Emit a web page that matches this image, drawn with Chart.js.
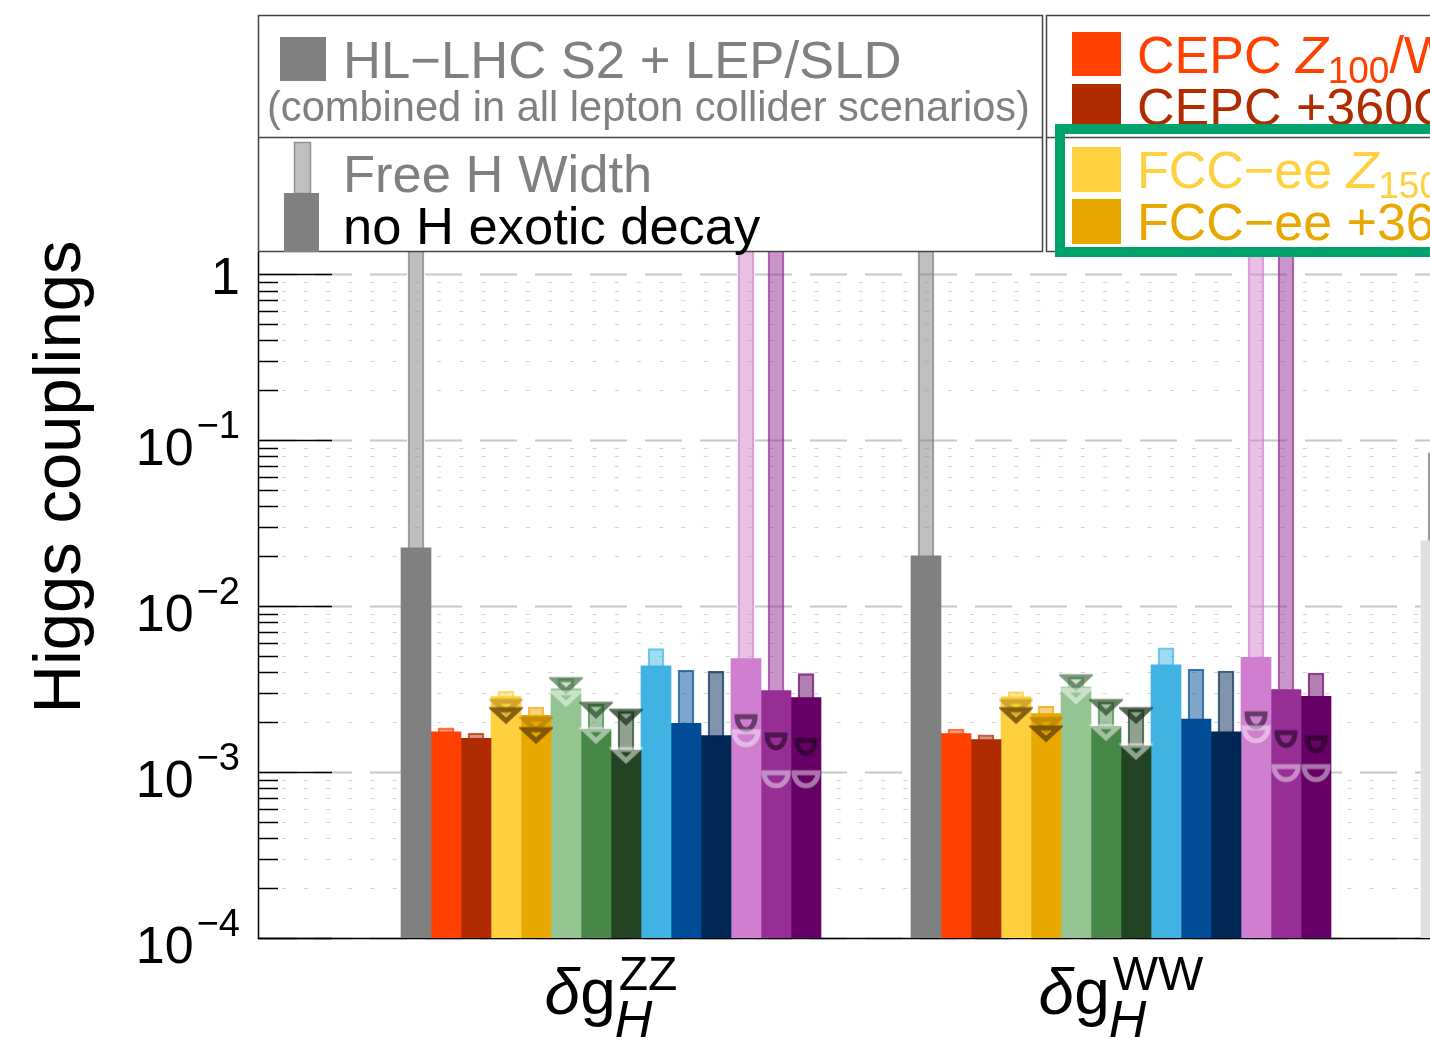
<!DOCTYPE html>
<html lang="en">
<head>
<meta charset="UTF-8" />
<title>Higgs couplings</title>
<script src="https://cdn.jsdelivr.net/npm/chart.js"></script>
<style>
  html, body { margin: 0; padding: 0; background: #fff; }
  #wrap { width: 1430px; height: 1044px; }
</style>
</head>
<body>
<div id="wrap"><canvas id="chart" width="1430" height="1044"></canvas></div>
<script>
  // categories (third one is only partly in view)
  const groups = ['ZZ', 'WW', 'γγ'];
  const scenarios = ['HL-LHC S2 + LEP/SLD', 'CEPC Z100/WW6/240', 'CEPC +360', 'FCC-ee Z150/WW10/240', 'FCC-ee +365',
    'ILC 250', 'ILC +500', 'ILC +1000', 'CLIC 380', 'CLIC +1500', 'CLIC +3000', 'LCF 250', 'LCF +550', 'LCF +1000'];

  // no H exotic decay (wide bars)
  const noExoticZZ = [0.0225, 0.00175, 0.0016, 0.00285, 0.0022, 0.00318, 0.00182, 0.00136, 0.00438, 0.00197, 0.00166, 0.00483, 0.0031, 0.00281];
  const noExoticWW = [0.0201, 0.00171, 0.00157, 0.00284, 0.00225, 0.00326, 0.00189, 0.00144, 0.00444, 0.00209, 0.00175, 0.00492, 0.00314, 0.00286];
  const noExoticAA = [0.0248, null, null, null, null, null, null, null, null, null, null, null, null, null];

  // free H width (narrow bars behind)
  const freeWidthZZ = [2, 0.00185, 0.00172, 0.00308, 0.00247, 0.00369, 0.00256, 0.00232, 0.00555, 0.00412, 0.00405, 2, 2, 0.00392];
  const freeWidthWW = [2, 0.00182, 0.00168, 0.00306, 0.0025, 0.00374, 0.00263, 0.00238, 0.00562, 0.00418, 0.00407, 2, 2, 0.00396];
  const freeWidthAA = [0.084, null, null, null, null, null, null, null, null, null, null, null, null, null];

  // extra markers (dark / light)
  const markDarkZZ = [null, null, null, 0.00219, 0.00166, 0.00332, 0.00236, 0.00214, null, null, null, 0.00196, 0.00152, 0.00141];
  const markLightZZ = [null, null, null, 0.00246, 0.00192, 0.00277, 0.00166, 0.00126, null, null, null, 0.00159, 0.0009, 0.0009];
  const markDarkWW = [null, null, null, 0.00219, 0.0017, 0.00346, 0.00245, 0.00219, null, null, null, 0.00204, 0.00157, 0.00146];
  const markLightWW = [null, null, null, 0.00245, 0.00191, 0.00287, 0.00173, 0.00133, null, null, null, 0.00168, 0.00098, 0.00098];

  const yTickValues = [1, 1e-1, 1e-2, 1e-3, 1e-4];
  const yTickExp = ['', '−1', '−2', '−3', '−4'];

  // styles
  const colors = ['#808080', '#ff4000', '#b02c00', '#fecf3f', '#e9a800', '#93c491', '#478747', '#234423',
    '#41b3e3', '#004c97', '#002855', '#d07fd0', '#962e96', '#660066'];
  const markerShape = [null, null, null, 'tri', 'tri', 'tri', 'tri', 'tri', null, null, null, 'cup', 'cup', 'cup'];
  const darkMarkColor = ['', '', '', 'rgba(95,60,0,0.75)', 'rgba(95,60,0,0.75)', 'rgba(40,85,40,0.6)', 'rgba(35,75,35,0.7)', 'rgba(25,50,25,0.75)',
    '', '', '', 'rgba(20,0,20,0.55)', 'rgba(20,0,20,0.55)', 'rgba(20,0,20,0.55)'];
  const lightMarkColor = ['', '', '', 'rgba(130,90,0,0.35)', 'rgba(130,90,0,0.35)', 'rgba(255,255,255,0.5)', 'rgba(255,255,255,0.5)', 'rgba(255,255,255,0.5)',
    '', '', '', 'rgba(255,255,255,0.45)', 'rgba(255,255,255,0.45)', 'rgba(255,255,255,0.45)'];
  const FONT = "'Liberation Sans', Arial, sans-serif";
  const groupStep = 17;   // bar slots from one coupling to the next
  const xMin = -5.2667, xMax = 33.8;

  const noExotic = [noExoticZZ, noExoticWW, noExoticAA];
  const freeWidth = [freeWidthZZ, freeWidthWW, freeWidthAA];
  const markDark = [markDarkZZ, markDarkWW];
  const markLight = [markLightZZ, markLightWW];

  function alpha(hex, a) {
    const n = parseInt(hex.slice(1), 16);
    return `rgba(${n >> 16},${(n >> 8) & 255},${n & 255},${a})`;
  }

  function makeMarker(shape, color, big) {
    const c = document.createElement('canvas');
    c.width = 34; c.height = 24;
    const g = c.getContext('2d');
    g.strokeStyle = color;
    g.lineWidth = 5;
    if (shape === 'tri') {
      g.beginPath(); g.moveTo(5, 6); g.lineTo(29, 6); g.lineTo(17, 17); g.closePath(); g.stroke();
    } else {
      g.beginPath(); g.ellipse(17, 5, big ? 12 : 9, 13, 0, 0, Math.PI); g.closePath(); g.stroke();
    }
    return c;
  }

  const datasets = [];
  scenarios.forEach((name, j) => {
    datasets.push({
      type: 'bar', label: name + ' (free width)', order: 2, grouped: false, clip: 0,
      data: groups.map((g, i) => ({ x: i * groupStep + j, y: freeWidth[i][j] })),
      backgroundColor: alpha(colors[j], 0.5), borderColor: alpha(colors[j], 0.75),
      borderWidth: 1.5, barThickness: 16
    });
    datasets.push({
      type: 'bar', label: name, order: 1, grouped: false, clip: 0,
      data: groups.map((g, i) => ({ x: i * groupStep + j, y: noExotic[i][j] })),
      backgroundColor: groups.map((g, i) => (i === 2 ? '#e0e0e0' : colors[j])),
      barThickness: 30
    });
    if (markerShape[j]) {
      [[markLight, lightMarkColor, true], [markDark, darkMarkColor, false]].forEach(([arr, col, big]) => {
        datasets.push({
          type: 'scatter', label: name + ' marker', order: 0, clip: 0,
          data: arr.map((vals, i) => ({ x: i * groupStep + j, y: vals[j] })),
          pointStyle: makeMarker(markerShape[j], col[j], big), pointRadius: 3
        });
      });
    }
  });

  function drawRuns(ctx, x, y, runs, color) {
    ctx.fillStyle = color;
    ctx.textAlign = 'left';
    ctx.textBaseline = 'alphabetic';
    for (const [t, size, italic, dy] of runs) {
      ctx.font = (italic ? 'italic ' : '') + size + 'px ' + FONT;
      ctx.fillText(t, x, y + (dy || 0));
      x += ctx.measureText(t).width;
    }
    return x;
  }

  const decor = {
    id: 'decor',
    beforeDatasetsDraw(chart) {
      const { ctx, chartArea: a, scales: { y } } = chart;
      ctx.save();
      // minor grid and ticks
      for (let e = -4; e <= 0; e++) {
        for (let m = 2; m <= 9; m++) {
          const v = m * Math.pow(10, e);
          if (v > y.max) continue;
          const py = Math.round(y.getPixelForValue(v)) + 0.5;
          ctx.setLineDash([4, 18.2]);
          ctx.strokeStyle = '#d2d2d2'; ctx.lineWidth = 1.2;
          ctx.beginPath(); ctx.moveTo(a.left + 1.5, py); ctx.lineTo(a.right, py); ctx.stroke();
          ctx.setLineDash([]);
          ctx.strokeStyle = '#000'; ctx.lineWidth = 1.5;
          ctx.beginPath(); ctx.moveTo(a.left, py); ctx.lineTo(a.left + 20, py); ctx.stroke();
        }
      }
      // major grid and ticks
      yTickValues.forEach(v => {
        const py = Math.round(y.getPixelForValue(v)) + 0.5;
        ctx.setLineDash([37, 18]);
        ctx.strokeStyle = '#c8c8c8'; ctx.lineWidth = 2;
        ctx.beginPath(); ctx.moveTo(a.left + 2, py); ctx.lineTo(a.right, py); ctx.stroke();
        ctx.setLineDash([]);
        ctx.strokeStyle = '#000'; ctx.lineWidth = 1.5;
        ctx.beginPath(); ctx.moveTo(a.left, py); ctx.lineTo(a.left + 74, py); ctx.stroke();
      });
      // axes
      ctx.strokeStyle = '#000'; ctx.lineWidth = 1.5;
      ctx.beginPath();
      ctx.moveTo(a.left + 0.5, a.top); ctx.lineTo(a.left + 0.5, a.bottom + 0.5); ctx.lineTo(a.right, a.bottom + 0.5);
      ctx.stroke();
      ctx.restore();
    },
    afterDraw(chart) {
      const { ctx, chartArea: a, scales: { x, y } } = chart;
      ctx.save();

      // y tick labels
      yTickValues.forEach((v, k) => {
        const py = y.getPixelForValue(v);
        const right = a.left - 18;
        ctx.fillStyle = '#000';
        ctx.textBaseline = 'alphabetic';
        ctx.textAlign = 'right';
        if (!yTickExp[k]) {
          ctx.font = '52px ' + FONT;
          ctx.fillText('1', right, py + 20);
        } else {
          ctx.font = '38px ' + FONT;
          const w = ctx.measureText(yTickExp[k]).width;
          ctx.fillText(yTickExp[k], right, py - 2.5);
          ctx.font = '52px ' + FONT;
          ctx.fillText('10', right - w - 3, py + 24.5);
        }
      });

      // y title
      ctx.save();
      ctx.translate(80, 477);
      ctx.rotate(-Math.PI / 2);
      ctx.font = '67px ' + FONT;
      ctx.textAlign = 'center';
      ctx.fillStyle = '#000';
      ctx.fillText('Higgs couplings', 0, 0);
      ctx.restore();

      // x labels: δg_H^{XX}
      groups.forEach((name, i) => {
        const cx = x.getPixelForValue(i * groupStep + 6.5);
        ctx.font = 'italic 64px ' + FONT;
        const wd = ctx.measureText('δ').width;
        ctx.font = '64px ' + FONT;
        const wg = ctx.measureText('g').width;
        ctx.font = '48px ' + FONT;
        const ws = ctx.measureText(name).width;
        const total = wd + wg + 3 + ws;
        const x0 = cx - total / 2;
        const xe = drawRuns(ctx, x0, 1014, [['δ', 64, true], ['g', 64, false]], '#000');
        drawRuns(ctx, xe + 3, 990, [[name, 48, false]], '#000');
        drawRuns(ctx, xe - 1, 1037, [['H', 52, true]], '#000');
      });

      // legend box 1
      ctx.fillStyle = '#fff';
      ctx.fillRect(258, 15, 785, 237);
      ctx.fillRect(1046, 15, 400, 237);
      ctx.strokeStyle = '#444'; ctx.lineWidth = 1.5;
      ctx.strokeRect(258.5, 15.5, 784, 236);
      ctx.strokeRect(1046.5, 15.5, 400, 236);
      ctx.beginPath();
      ctx.moveTo(258, 137.5); ctx.lineTo(1043, 137.5);
      ctx.moveTo(1046, 137.5); ctx.lineTo(1446, 137.5);
      ctx.stroke();

      ctx.fillStyle = '#808080';
      ctx.fillRect(280, 37, 46, 44);
      drawRuns(ctx, 343, 78, [['HL−LHC S2 + LEP/SLD', 52.6]], '#808080');
      drawRuns(ctx, 267, 121, [['(combined in all lepton collider scenarios)', 41.6]], '#808080');

      ctx.fillStyle = alpha('#808080', 0.5);
      ctx.fillRect(294, 142, 17, 52);
      ctx.strokeStyle = alpha('#808080', 0.75); ctx.lineWidth = 1.5;
      ctx.strokeRect(294.5, 142.5, 16, 51);
      ctx.fillStyle = '#808080';
      ctx.fillRect(284, 193, 35, 59);
      drawRuns(ctx, 343, 192, [['Free H Width', 52.5]], '#808080');
      drawRuns(ctx, 343, 244, [['no H exotic decay', 52.5]], '#000');

      // legend box 2
      ctx.fillStyle = colors[1]; ctx.fillRect(1072, 32, 49, 44);
      drawRuns(ctx, 1137, 73, [['CEPC ', 52], ['Z', 52, true], ['100', 37, false, 10], ['/WW', 52]], colors[1]);
      ctx.fillStyle = colors[2]; ctx.fillRect(1072, 84, 49, 44);
      drawRuns(ctx, 1137, 125, [['CEPC +360GeV', 52]], colors[2]);
      ctx.fillStyle = '#ffd040'; ctx.fillRect(1072, 147, 49, 45);
      drawRuns(ctx, 1137, 188, [['FCC−ee ', 52], ['Z', 52, true], ['150', 37, false, 10], ['/WW', 52]], '#ffd040');
      ctx.fillStyle = '#e8a800'; ctx.fillRect(1072, 199, 49, 45);
      drawRuns(ctx, 1137, 240, [['FCC−ee +365GeV', 52]], '#e8a800');

      ctx.strokeStyle = '#00a36c'; ctx.lineWidth = 10;
      ctx.strokeRect(1060, 129, 400, 123);
      ctx.restore();
    }
  };

  new Chart(document.getElementById('chart'), {
    type: 'bar',
    data: { datasets },
    options: {
      responsive: false,
      animation: false,
      events: [],
      layout: { autoPadding: false, padding: { top: 252, right: 0, bottom: 0, left: 0 } },
      plugins: { legend: { display: false }, tooltip: { enabled: false } },
      scales: {
        x: {
          type: 'linear', min: xMin, max: xMax, offset: false,
          grid: { display: false }, border: { display: false }, ticks: { display: false },
          afterFit: s => { s.height = 106; }
        },
        y: {
          type: 'logarithmic', min: 1e-4, max: 1.366,
          grid: { display: false }, border: { display: false }, ticks: { display: false },
          afterFit: s => { s.width = 258; }
        }
      }
    },
    plugins: [decor]
  });
</script>
</body>
</html>
